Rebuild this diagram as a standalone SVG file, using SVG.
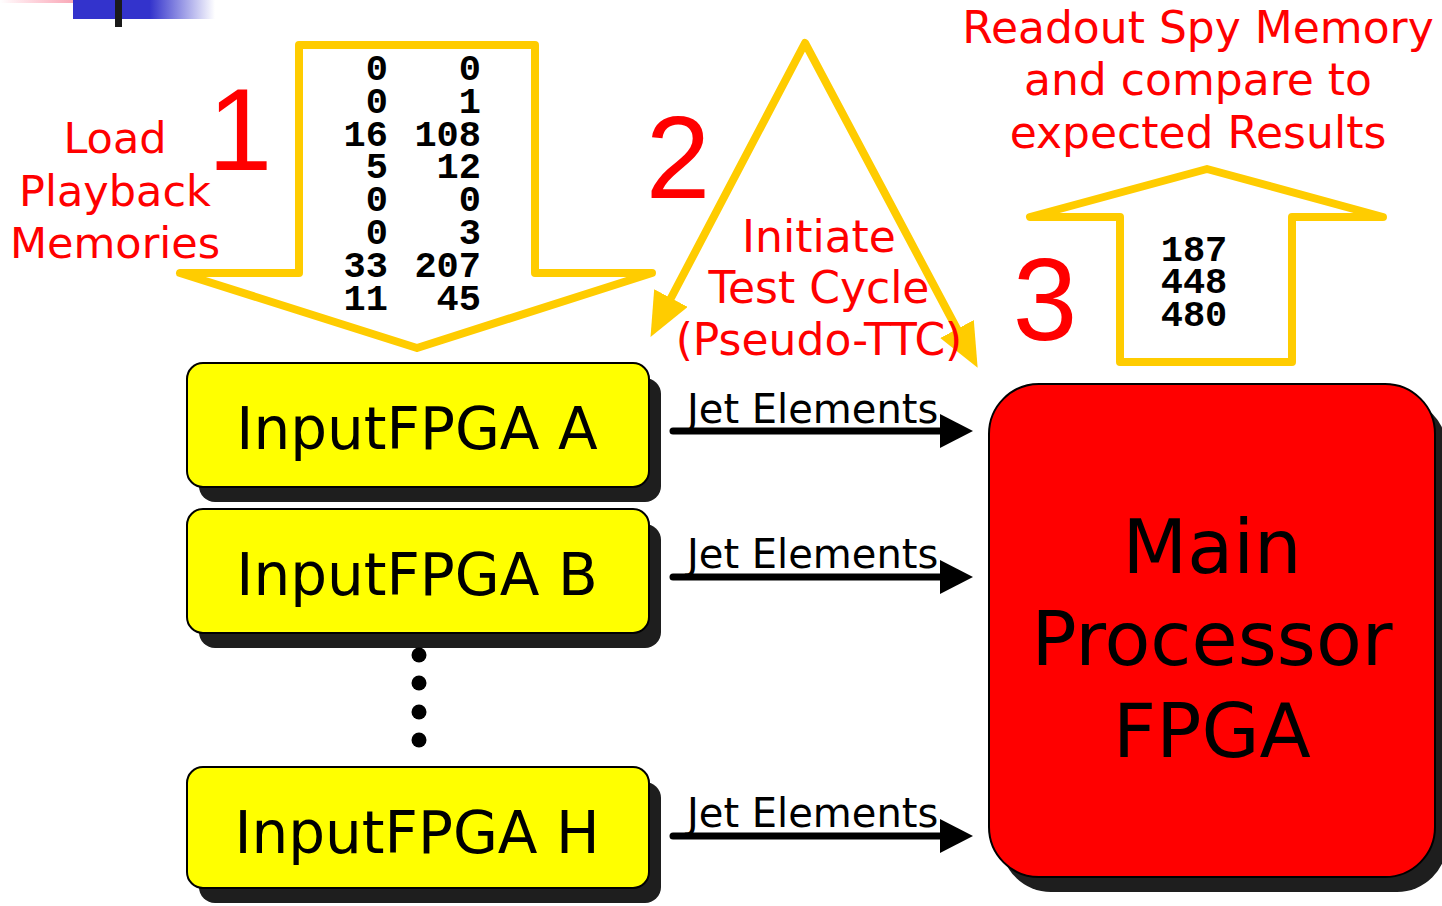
<svg xmlns="http://www.w3.org/2000/svg" width="1442" height="906" viewBox="0 0 1442 906">
<style>
.lbl{font-family:"DejaVu Sans",Verdana,sans-serif;fill:#FF0000;font-size:43px;text-anchor:middle}
.lbl2{font-size:44px}
.big{font-family:"Liberation Sans",Arial,sans-serif;fill:#FF0000;font-size:116px;text-anchor:middle}
.num{font-family:"Liberation Mono","Courier New",monospace;font-weight:bold;font-size:37px;fill:#000}
.yarrow{fill:none;stroke:#FFCC00;stroke-width:8;stroke-linejoin:round;stroke-linecap:round}
.box{fill:#FFFF00;stroke:#000;stroke-width:2}
.shadow{fill:#1e1e1e}
.boxtxt{font-family:"DejaVu Sans",Verdana,sans-serif;font-size:58px;fill:#000;text-anchor:middle}
.main{fill:#FF0000;stroke:#000;stroke-width:2}
.maintxt{font-family:"DejaVu Sans",Verdana,sans-serif;font-size:75px;fill:#000;text-anchor:middle}
.conn{stroke:#000;stroke-width:7;stroke-linecap:round;fill:none}
.jet{font-family:"DejaVu Sans",Verdana,sans-serif;font-size:40px;fill:#000}
</style>
<defs>
<linearGradient id="blueG" x1="73" y1="0" x2="215" y2="0" gradientUnits="userSpaceOnUse">
<stop offset="0" stop-color="#3333CC"/><stop offset="0.54" stop-color="#3333CC"/><stop offset="1" stop-color="#3333CC" stop-opacity="0"/>
</linearGradient>
<linearGradient id="pinkG" x1="0" y1="0" x2="111" y2="0" gradientUnits="userSpaceOnUse">
<stop offset="0" stop-color="#FF6688" stop-opacity="0"/><stop offset="1" stop-color="#F08898"/>
</linearGradient>
<marker id="yhead" markerUnits="userSpaceOnUse" markerWidth="46" markerHeight="40" refX="0" refY="19" orient="auto-start-reverse">
<path d="M0,0 L44,19 L0,38 Z" fill="#FFCC00"/>
</marker>
<marker id="khead" markerUnits="userSpaceOnUse" markerWidth="36" markerHeight="36" refX="0" refY="17" orient="auto">
<path d="M0,0 L33,17 L0,34 Z" fill="#000"/>
</marker>
</defs>

<g id="decoration">
<rect x="0" y="0" width="111" height="3" fill="url(#pinkG)"/>
<rect x="73" y="0" width="142" height="19" fill="url(#blueG)"/>
<rect x="115" y="0" width="7" height="27" fill="#1a1a1a"/>
</g>

<g id="step1">
<path class="yarrow" d="M299,45 L535,45 L535,273 L652,273 L417,348 L180,273 L299,273 Z"/>
<text class="big" x="240" y="170">1</text>
<text class="lbl" x="115" y="153">Load</text>
<text class="lbl" x="115" y="206">Playback</text>
<text class="lbl" x="115" y="258">Memories</text>
<g class="num" text-anchor="end">
<text x="388" y="80">0</text><text x="481" y="80">0</text>
<text x="388" y="113">0</text><text x="481" y="113">1</text>
<text x="388" y="146">16</text><text x="481" y="146">108</text>
<text x="388" y="178">5</text><text x="481" y="178">12</text>
<text x="388" y="211">0</text><text x="481" y="211">0</text>
<text x="388" y="244">0</text><text x="481" y="244">3</text>
<text x="388" y="277">33</text><text x="481" y="277">207</text>
<text x="388" y="310">11</text><text x="481" y="310">45</text>
</g>
</g>

<g id="step2">
<path class="yarrow" d="M671,298 L805,43 L957,329" marker-start="url(#yhead)" marker-end="url(#yhead)"/>
<text class="big" x="678" y="198">2</text>
<text class="lbl lbl2" x="819" y="252">Initiate</text>
<text class="lbl lbl2" x="819" y="303">Test Cycle</text>
<text class="lbl lbl2" x="819" y="355">(Pseudo-TTC)</text>
</g>

<g id="step3">
<path class="yarrow" d="M1120,362 L1292,362 L1292,217 L1383,217 L1207,169 L1030,217 L1120,217 Z"/>
<text class="big" x="1045" y="340">3</text>
<text class="lbl lbl2" x="1198" y="43">Readout Spy Memory</text>
<text class="lbl lbl2" x="1198" y="95">and compare to</text>
<text class="lbl lbl2" x="1198" y="148">expected Results</text>
<g class="num" text-anchor="middle">
<text x="1194" y="261">187</text>
<text x="1194" y="293">448</text>
<text x="1194" y="326">480</text>
</g>
</g>

<g id="inputA">
<rect class="shadow" x="199" y="378" width="462" height="124" rx="16"/>
<rect class="box" x="187" y="363" width="462" height="124" rx="16"/>
<text class="boxtxt" x="417" y="449">InputFPGA A</text>
</g>
<g id="inputB">
<rect class="shadow" x="199" y="524" width="462" height="124" rx="16"/>
<rect class="box" x="187" y="509" width="462" height="124" rx="16"/>
<text class="boxtxt" x="417" y="595">InputFPGA B</text>
</g>
<g id="ellipsis">
<circle cx="419" cy="655" r="7.5" fill="#000"/>
<circle cx="419" cy="683" r="7.5" fill="#000"/>
<circle cx="419" cy="712" r="7.5" fill="#000"/>
<circle cx="419" cy="740" r="7.5" fill="#000"/>
</g>
<g id="inputH">
<rect class="shadow" x="199" y="782" width="462" height="121" rx="16"/>
<rect class="box" x="187" y="767" width="462" height="121" rx="16"/>
<text class="boxtxt" x="417" y="853">InputFPGA H</text>
</g>

<g id="mainFPGA">
<rect class="shadow" x="1001" y="399" width="446" height="493" rx="50"/>
<rect class="main" x="989" y="384" width="446" height="493" rx="50"/>
<text class="maintxt" x="1212" y="573">Main</text>
<text class="maintxt" x="1212" y="665">Processor</text>
<text class="maintxt" x="1212" y="757">FPGA</text>
</g>

<g id="connectors">
<path class="conn" d="M673,431 L940,431" marker-end="url(#khead)"/>
<text class="jet" x="687" y="423">Jet Elements</text>
<path class="conn" d="M673,577 L940,577" marker-end="url(#khead)"/>
<text class="jet" x="687" y="568">Jet Elements</text>
<path class="conn" d="M673,836 L940,836" marker-end="url(#khead)"/>
<text class="jet" x="687" y="827">Jet Elements</text>
</g>
</svg>
